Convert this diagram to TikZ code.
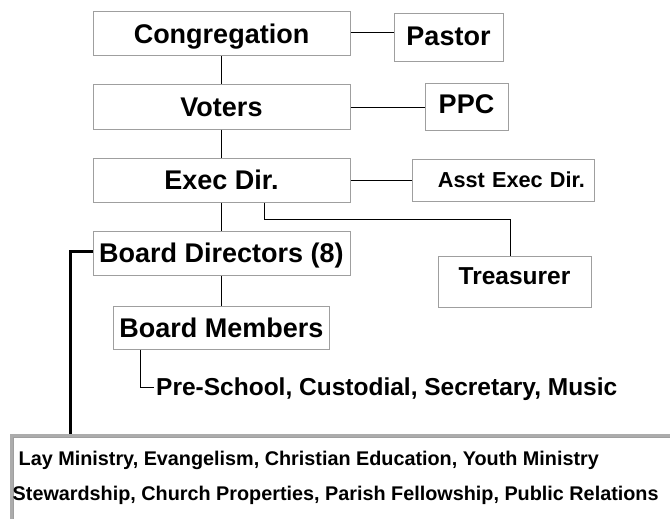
\documentclass[tikz,border=0pt]{standalone}
\usepackage{fontspec}
\setmainfont{Liberation Sans}
\usetikzlibrary{positioning,calc}

\begin{document}
\begin{tikzpicture}[
  x=1pt, y=-1pt,
  node distance=28pt,
  box/.style={draw=gray!75, line width=1pt, inner sep=0pt, align=center, text height=19.3pt, text depth=0pt, font=\bfseries\fontsize{27}{32}\selectfont},
  wide/.style={box, minimum width=257pt, minimum height=44pt},
  link/.style={line width=0.8pt},
  heavy/.style={line width=3pt},
  small/.style={font=\bfseries\fontsize{#1}{#1}\selectfont, text height=0.716*#1pt, text depth=0pt}
]
\useasboundingbox (0,0) rectangle (670,519);
\clip (0,0) rectangle (670,519);
% main column
\node[wide] (cong) at (221.5,34) {Congregation};
\node[wide, below=of cong] (voters) {Voters};
\node[wide, below=of voters] (exec) {Exec Dir.};
\node[wide, below=of exec] (board) {Board Directors (8)};
\node[box, minimum width=216pt, minimum height=43pt, below=30pt of board] (members) {Board Members};
% side boxes
\node[box, text depth=4pt, minimum width=109pt, minimum height=48pt, right=43pt of cong, yshift=-4pt] (pastor) {Pastor};
\node[box, text depth=6pt, minimum width=83pt, minimum height=46pt, right=74pt of voters] (ppc) {PPC};
\node[box, small=21.7, minimum width=182pt, minimum height=42pt, text width=164pt, align=right, right=61pt of exec] (asst) {Asst Exec Dir.};
\node[box, small=24.5, minimum width=153pt, minimum height=51pt, text depth=12pt] (treas) at (514.5,281.5) {Treasurer};
\node[small=24.5, inner sep=2pt, anchor=west] (pre) at (154,387) {Pre-School, Custodial, Secretary, Music};
% lower panel
\node[draw=gray!65, line width=3pt, minimum width=700pt, minimum height=120pt, anchor=north west] (lower) at (10,434) {};
\draw[gray!75, line width=0.8pt] ([shift={(3pt,-3pt)}]lower.north west) rectangle ([shift={(-3pt,3pt)}]lower.south east);
\node[small=19.8, inner sep=0pt, anchor=west] (lay) at (18.5,458) {Lay Ministry, Evangelism, Christian Education, Youth Ministry};
\node[small=19.8, inner sep=0pt, anchor=west] (stew) at (12.5,493) {Stewardship, Church Properties, Parish Fellowship, Public Relations};
% connectors
\draw[link] (cong) -- (voters);
\draw[link] (voters) -- (exec);
\draw[link] (exec) -- (board);
\draw[link] (board) -- (members);
\draw[link] ([yshift=2pt]cong.east) -- ([yshift=2pt]cong.east -| pastor.west);
\draw[link] (voters.east) -- (voters.east -| ppc.west);
\draw[link] (exec.east) -- (exec.east -| asst.west);
\draw[link] ([xshift=42.5pt]exec.south) |- ++(0,17) -| ([xshift=-4.5pt]treas.north);
\draw[link] ([xshift=-81pt]members.south) |- (pre.west);
\draw[heavy] ([yshift=2pt]board.west) -| ([xshift=60pt]lower.north west);
\end{tikzpicture}
\end{document}
